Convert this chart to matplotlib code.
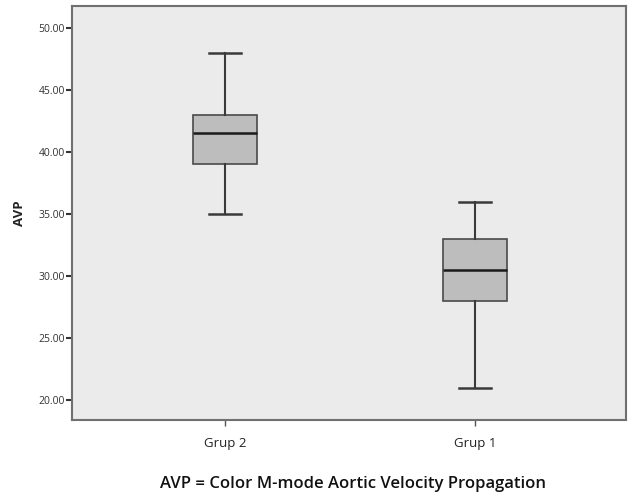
import matplotlib
matplotlib.use("Agg")
from matplotlib import pyplot as plt

# summary values
groups = ["Grup 2", "Grup 1"]
whis_lo = [35.0, 21.0]
q1 = [39.0, 28.0]
median = [41.5, 30.5]
q3 = [43.0, 33.0]
whis_hi = [48.0, 36.0]
y_ticks = [20, 25, 30, 35, 40, 45, 50]

plt.rcParams['font.family'] = ['Open Sans', 'DejaVu Sans']

fig = plt.figure(figsize=(6.28, 4.96), dpi=100)
ax = fig.add_axes([72 / 628, 1 - 420 / 496, (626 - 72) / 628, (420 - 6) / 496])
ax.set_facecolor('#ebebeb')

stats = []
for i, g in enumerate(groups):
    stats.append({'label': g, 'whislo': whis_lo[i], 'q1': q1[i], 'med': median[i],
                  'q3': q3[i], 'whishi': whis_hi[i], 'fliers': []})

edge = '#3a3a3a'
ax.bxp(stats, positions=[1, 2], widths=0.254, capwidths=0.126, patch_artist=True,
       showfliers=False,
       boxprops=dict(facecolor='#bdbdbd', edgecolor='#4a4a4a', linewidth=1.2),
       medianprops=dict(color='#1a1a1a', linewidth=1.8),
       whiskerprops=dict(color=edge, linewidth=1.5),
       capprops=dict(color=edge, linewidth=1.8))

ax.set_xlim(0.388, 2.604)
ax.set_ylim(18.39, 51.77)
ax.set_yticks(y_ticks)
ax.set_yticklabels(["%.2f" % v for v in y_ticks], fontsize=7.5, color='#333333')
ax.set_xticks([1, 2])
ax.set_xticklabels(groups, fontsize=9.5, color='#222222')
ax.tick_params(axis='y', length=4, width=1.5, color='#333333', pad=1)
ax.tick_params(axis='x', length=4, width=1, color='#555555', pad=8)
for s in ax.spines.values():
    s.set_color('#707070')
    s.set_linewidth(1.5)

ax.set_ylabel("AVP", fontsize=9.5, fontweight='bold', color='#222222')
ax.yaxis.set_label_coords(-46 / 554, 0.5)

fig.text(353 / 628, 1 - 484 / 496, "AVP = Color M-mode Aortic Velocity Propagation",
         ha='center', va='center', fontsize=12, fontweight='semibold', color='#111111')

fig.savefig("out.png", dpi=100)
